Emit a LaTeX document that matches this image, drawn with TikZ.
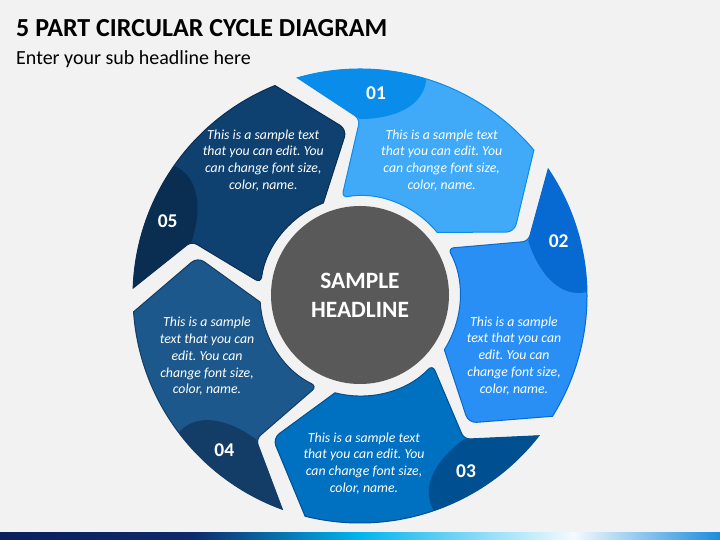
\documentclass[tikz,border=0pt]{standalone}
\usepackage{fontspec}
\setmainfont{Carlito}
\frenchspacing
\definecolor{bg}{HTML}{F2F2F2}
\definecolor{pA}{HTML}{40AAF8}\definecolor{dA}{HTML}{0A8CEB}
\definecolor{pB}{HTML}{2A8FF4}\definecolor{dB}{HTML}{066AD2}
\definecolor{pC}{HTML}{0070C0}\definecolor{dC}{HTML}{005091}
\definecolor{pD}{HTML}{1C588C}\definecolor{dD}{HTML}{133D67}
\definecolor{pE}{HTML}{0F4170}\definecolor{dE}{HTML}{0A2D52}
\definecolor{hub}{HTML}{595959}
\definecolor{barA}{HTML}{0B1F5C}\definecolor{barB}{HTML}{0E2A6C}
\definecolor{barC}{HTML}{00B4F0}\definecolor{barD}{HTML}{F4FAFE}
\definecolor{barE}{HTML}{1A8CDE}
\def\segpath{(106:227) [rounded corners=6pt] -- (90:177) -- (100.5:100) [sharp corners] arc[start angle=100.5, end angle=39.5, radius=100pt] [rounded corners=8pt] -- (22.5:167) [sharp corners] -- (40:227) arc[start angle=40, end angle=106, radius=227pt] -- cycle}
\def\darkpath{(0,177) .. controls (35,177) and (64,190) .. (73:227) arc[start angle=73, end angle=106, radius=227pt] -- cycle}
\newcommand{\segment}[3]{%
  \begin{scope}[shift={(360,244)}, rotate=#1]
    \fill[#2] \segpath;
    \begin{scope}
      \clip \segpath;
      \fill[#3] \darkpath;
    \end{scope}
    \draw[#3, line width=1pt] \segpath;
  \end{scope}}
\tikzset{
  bodytext/.style={text=white, align=center, inner sep=0pt, font=\itshape\fontsize{13.8}{16.8}\selectfont},
  numtext/.style={text=white, inner sep=0pt, font=\bfseries\fontsize{19.5}{20}\selectfont}
}
\begin{document}
\begin{tikzpicture}[x=1pt,y=1pt]
\fill[bg] (0,0) rectangle (720,540);
\useasboundingbox (0,0) rectangle (720,540);
% title
\node[anchor=base west, inner sep=0pt, font=\bfseries\fontsize{26}{30}\selectfont] (title) at (16,503.3) {5 PART CIRCULAR CYCLE DIAGRAM};
\node[anchor=base west, inner sep=0pt, font=\fontsize{20}{23}\selectfont] (subtitle) at (16,475) {Enter your sub headline here};
% segments
\segment{0}{pA}{dA}
\segment{-72}{pB}{dB}
\segment{-144}{pC}{dC}
\segment{-216}{pD}{dD}
\segment{-288}{pE}{dE}
% hub
\node[circle, fill=hub, minimum size=178pt, inner sep=0pt, text=white, align=center, font=\bfseries\fontsize{23.4}{28.7}\selectfont] (hub) at (360,245) {SAMPLE\\HEADLINE};
% numbers
\node[numtext] (n1) at (376,446.8) {01};
\node[numtext] (n2) at (558.7,299.3) {02};
\node[numtext] (n3) at (466,69.3) {03};
\node[numtext] (n4) at (224.3,90) {04};
\node[numtext] (n5) at (167.7,319.3) {05};
% texts
\node[bodytext] (t1) at (441.7,379.7) {This is a sample text\\that you can edit. You\\can change font size,\\color, name.};
\node[bodytext] (t2) at (514,184.3) {This is a sample\\text that you can\\edit. You can\\change font size,\\color, name.};
\node[bodytext] (t3) at (364,76.7) {This is a sample text\\that you can edit. You\\can change font size,\\color, name.};
\node[bodytext] (t4) at (207,183.7) {This is a sample\\text that you can\\edit. You can\\change font size,\\color, name.};
\node[bodytext] (t5) at (263.3,379.7) {This is a sample text\\that you can edit. You\\can change font size,\\color, name.};
% bottom bar
\fill[left color=barA, right color=barB] (0,0) rectangle (193.5,7);
\fill[left color=barB, right color=barC] (193,0) rectangle (358.5,7);
\fill[left color=barC, right color=barD] (358,0) rectangle (573.5,7);
\fill[left color=barD, right color=barE] (573,0) rectangle (720,7);
\end{tikzpicture}
\end{document}
